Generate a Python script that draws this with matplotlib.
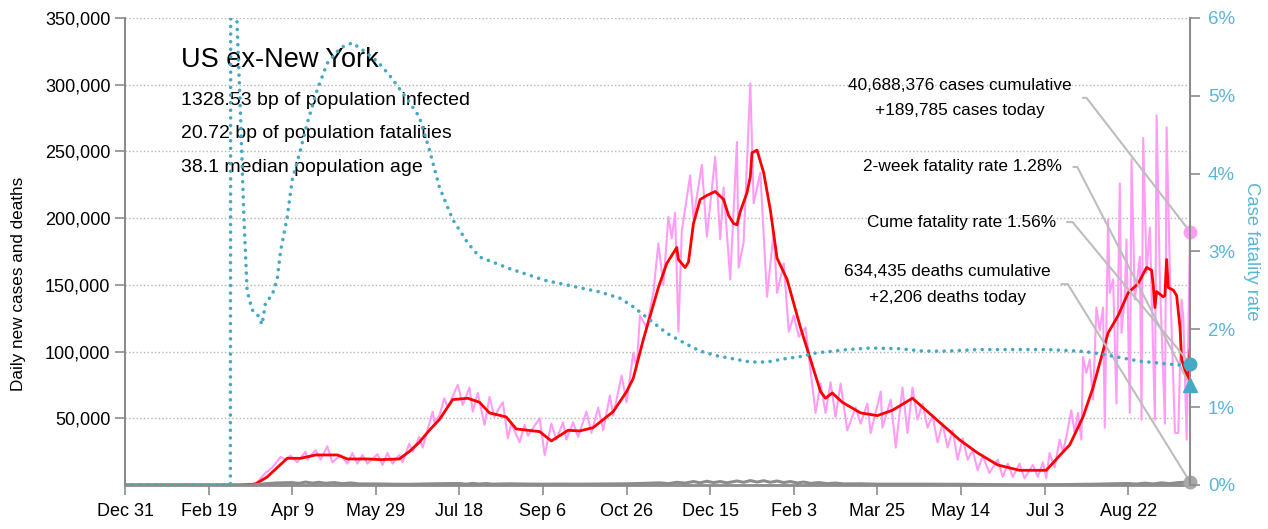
import numpy as np
import matplotlib
matplotlib.use("Agg")
from matplotlib import pyplot as plt
from matplotlib.ticker import FuncFormatter

plt.rcParams['font.family'] = ['Liberation Sans', 'DejaVu Sans']

# days since Dec 31 2019 (thousands)
case_days = [0, 75, 79, 84, 88, 93, 96, 99, 103, 108, 109, 114, 117, 121, 124, 129, 133, 136, 139,
             142, 145, 151, 154, 157, 160, 164, 166, 170, 172, 176, 178, 184, 185, 188, 191, 193,
             199, 202, 206, 208, 211, 215, 218, 221, 223, 226, 229, 231, 236, 239, 241, 248, 251,
             255, 258, 262, 264, 268, 271, 276, 279, 283, 286, 290, 292, 297, 300, 304, 306, 308,
             312, 316, 319, 322, 325, 327, 329, 331, 333, 338, 340, 345, 348, 353, 356, 358, 362,
             366, 367, 370, 374, 376, 380, 384, 388, 390, 394, 397, 400, 403, 407, 410, 413, 416,
             419, 422, 425, 428, 432, 437, 440, 444, 446, 452, 453, 458, 461, 465, 468, 471, 474,
             477, 480, 483, 486, 489, 492, 495, 498, 501, 504, 507, 510, 513, 517, 522, 525, 528,
             531, 535, 538, 543, 546, 549, 551, 553, 556, 559, 561, 563, 566, 568, 570, 572, 573,
             575, 577, 579, 581, 583, 585, 586, 588, 589, 591, 593, 595, 596, 598, 599, 601, 602,
             604, 607, 608, 609, 611, 613, 616, 617, 619, 622, 623, 625, 628, 630, 632, 633, 635, 637]
daily_cases = [0, 0, 2, 9, 13, 21, 19, 22, 17, 25, 19, 26, 19, 29, 17, 22.5, 16, 24, 16,
               22.5, 16, 23, 15, 24, 16, 22.5, 17, 31, 25, 36, 28, 55, 47, 52, 65, 58,
               75, 60, 73, 55, 69, 45, 66, 51, 56, 62, 35, 46, 32, 45, 37, 50, 22.5,
               46, 34, 47, 34, 47, 36, 55, 39, 58, 41, 67, 52, 82, 62, 99, 88, 127,
               118, 144, 181, 150, 201, 185, 204, 115, 190, 232, 200, 240, 186, 246, 184, 223, 154,
               257, 163, 182, 301, 211, 234, 141, 190, 144, 166, 115, 127, 111, 118, 86, 54, 76,
               54, 77, 51, 76, 41, 58, 46, 61, 39, 70, 43, 64, 28, 73, 39, 73, 49,
               61, 43, 52, 32, 46, 28, 41, 19, 35, 19, 26, 11, 22, 9, 19, 6, 16,
               6, 16, 5, 15, 6, 17, 5, 24, 13, 34, 25, 36, 56, 39, 54, 34, 96,
               84, 94, 64, 133, 116, 133, 43, 199, 144, 154, 61, 226, 114, 141, 184, 54, 244,
               139, 171, 49, 260, 159, 193, 49, 277, 151, 46, 268, 156, 39, 39, 139, 126, 34, 189.785]

avg_days = [0, 69, 78, 85, 91, 97, 105, 114, 127, 133, 145, 153, 164, 170, 176, 182, 188, 196,
            205, 212, 218, 228, 234, 248, 255, 265, 272, 280, 292, 300, 304, 310, 319, 324, 330,
            331, 335, 337, 340, 344, 348, 353, 358, 361, 364, 366, 368, 372, 374, 375, 378, 382,
            386, 390, 396, 404, 410, 416, 419, 423, 429, 440, 450, 459, 471, 480, 489, 499, 510,
            522, 535, 551, 559, 565, 573, 579, 584, 588, 594, 600, 606, 611, 614, 615, 616, 617,
            621, 622, 623, 624, 627, 629, 631, 632, 634, 636, 637]
avg_cases = [0, 0, 0.7, 6, 13, 20, 20, 22.5, 22.5, 19.5, 19.5, 19, 19.5, 25, 32, 41, 49, 64,
             65, 62, 54, 51, 42, 40, 33, 41, 40.5, 43, 55, 70, 80, 109, 148, 166, 178,
             169, 163, 167, 196, 214, 217, 220, 214, 202, 196, 195, 205, 219, 231, 249, 251, 234,
             206, 170, 154, 118, 94, 70, 65, 69, 62, 54, 52, 56, 65, 55, 45, 34, 24,
             15, 11, 11, 22, 30, 51, 73, 96, 114, 127, 144, 151, 163, 161, 150, 133, 145,
             141, 142, 169, 148, 146, 142, 118, 94, 86, 79, 101]

death_days = [0, 75, 80, 90, 100, 104, 108, 112, 116, 120, 125, 130, 135, 140, 150, 160, 170, 180,
              190, 200, 204, 208, 212, 216, 220, 230, 240, 250, 260, 270, 280, 290, 300, 310, 320,
              325, 330, 335, 340, 344, 348, 352, 356, 360, 366, 370, 374, 378, 382, 386, 390, 394,
              398, 402, 406, 410, 415, 420, 425, 430, 440, 450, 460, 470, 480, 500, 520, 540, 560,
              580, 590, 600, 605, 610, 615, 620, 625, 630, 637]
daily_deaths = [0, 0, 0.5, 1.5, 1.8, 1.2, 2.2, 1.4, 2.0, 1.3, 1.8, 1.0, 1.5, 0.8, 0.8, 0.6, 0.5, 0.8,
                1.0, 1.1, 0.6, 1.2, 0.7, 1.1, 0.6, 0.9, 0.7, 0.6, 0.7, 0.6, 0.7, 0.8, 0.9, 1.2, 1.6,
                1.0, 2.0, 1.4, 2.6, 1.6, 2.8, 1.8, 2.6, 1.6, 3.0, 2.0, 3.3, 2.2, 3.2, 2.0, 3.0, 1.8,
                2.6, 1.5, 2.2, 1.2, 1.8, 1.0, 1.4, 0.8, 0.9, 0.6, 0.6, 0.6, 0.6, 0.5, 0.3, 0.2, 0.3,
                0.6, 0.9, 1.1, 0.7, 1.4, 0.8, 1.6, 1.0, 1.8, 2.206]

cfr_days = [0, 63, 64, 65, 66, 69, 71, 73, 76, 79, 82, 84, 88, 91, 93, 97, 100, 105, 109, 115,
            121, 129, 136, 142, 151, 158, 169, 176, 182, 188, 196, 205, 212, 230, 251, 284, 296,
            304, 314, 324, 334, 344, 354, 364, 374, 384, 394, 404, 414, 424, 432, 446, 464, 477,
            491, 511, 531, 551, 571, 579, 587, 597, 607, 617, 630, 637]
cfr_pct = [0, 0, 30, 30, 6.5, 4.8, 3.5, 2.5, 2.25, 2.2, 2.06, 2.34, 2.44, 2.64, 3.0, 3.44, 3.92,
           4.31, 4.65, 5.08, 5.42, 5.62, 5.68, 5.59, 5.44, 5.27, 4.95, 4.73, 4.31, 3.83, 3.41,
           3.11, 2.93, 2.78, 2.63, 2.48, 2.40, 2.29, 2.12, 1.95, 1.83, 1.72, 1.66, 1.62, 1.58,
           1.58, 1.62, 1.65, 1.70, 1.72, 1.74, 1.76, 1.75, 1.72, 1.72, 1.74, 1.74, 1.74, 1.72,
           1.70, 1.67, 1.63, 1.59, 1.57, 1.54, 1.56]

tick_days = [0, 50, 100, 150, 200, 250, 300, 350, 400, 450, 500, 550, 600]
tick_labels = ['Dec 31', 'Feb 19', 'Apr 9', 'May 29', 'Jul 18', 'Sep 6', 'Oct 26',
               'Dec 15', 'Feb 3', 'Mar 25', 'May 14', 'Jul 3', 'Aug 22']

last_day = 637
cases_today = 189785
deaths_today = 2206
cume_cfr = 1.56
two_week_cfr = 1.28

pink = '#ff9cf5'
teal = '#45a9c6'
teal_txt = '#5bb5d5'
axis_gray = '#8c8c8c'

fig = plt.figure(figsize=(12.68, 5.29), dpi=100)
ax = fig.add_axes([0.0986, 0.0832, 0.8399, 0.8828])

ax.plot(case_days, np.array(daily_cases) * 1000, color=pink, lw=1.5, zorder=2)
ax.plot(avg_days, np.array(avg_cases) * 1000, color='#ff0000', lw=2, zorder=3)
ax.plot(death_days, np.array(daily_deaths) * 1000, color=axis_gray, lw=2.2, zorder=3)

ax.set_xlim(0, last_day)
ax.set_ylim(0, 350000)
ax.set_yticks(np.arange(50000, 350001, 50000))
ax.yaxis.set_major_formatter(FuncFormatter(lambda v, p: '{:,.0f}'.format(v)))
ax.set_xticks(tick_days)
ax.set_xticklabels(tick_labels)
ax.grid(axis='y', color='#b5b5b5', linestyle=':', lw=1)
ax.set_axisbelow(True)
ax.tick_params(axis='both', labelsize=13, color=axis_gray, length=7, width=1.2)
ax.tick_params(axis='x', pad=6)
for s in ['top', 'right']:
    ax.spines[s].set_visible(False)
ax.spines['left'].set_color(axis_gray)
ax.spines['left'].set_linewidth(1.5)
ax.spines['bottom'].set_color(axis_gray)
ax.spines['bottom'].set_linewidth(2)
ax.set_ylabel('Daily new cases and deaths', fontsize=12.3)
ax.yaxis.set_label_coords(-0.093, 0.43)

ax2 = ax.twinx()
ax2.plot(cfr_days, cfr_pct, color=teal, lw=2.6, linestyle=(0, (0.01, 2.1)),
         dash_capstyle='round', zorder=4)
ax2.set_ylim(0, 6)
ax2.set_yticks(range(0, 7))
ax2.yaxis.set_major_formatter(FuncFormatter(lambda v, p: '{:.0f}%'.format(v)))
ax2.tick_params(axis='y', labelsize=13.5, colors=teal_txt, length=7, width=1.2, pad=6)
ax2.tick_params(axis='y', color=axis_gray)
for s in ['top', 'left', 'bottom']:
    ax2.spines[s].set_visible(False)
ax2.spines['right'].set_color(axis_gray)
ax2.spines['right'].set_linewidth(1.5)
ax2.set_ylabel('Case fatality rate', fontsize=13.3, color=teal_txt, rotation=270, labelpad=18)

# end markers
ax.plot([last_day], [cases_today], 'o', color=pink, ms=9, clip_on=False, zorder=6)
ax.plot([last_day], [deaths_today], 'o', color='#a8a8a8', ms=9, clip_on=False, zorder=6)
ax2.plot([last_day], [cume_cfr], 'o', color=teal, ms=9, clip_on=False, zorder=6)
ax2.plot([last_day], [two_week_cfr], '^', color=teal, ms=10.5, clip_on=False, zorder=6)

# title block
ax.text(0.0526, 0.910, 'US ex-New York', transform=ax.transAxes, fontsize=19.5, va='center')
ax.text(0.0526, 0.824, '1328.53 bp of population infected', transform=ax.transAxes,
        fontsize=14, va='center')
ax.text(0.0526, 0.752, '20.72 bp of population fatalities', transform=ax.transAxes,
        fontsize=14, va='center')
ax.text(0.0526, 0.679, '38.1 median population age', transform=ax.transAxes,
        fontsize=14, va='center')

# callouts
line_kw = dict(arrowstyle='-', color='#bdbdbd', lw=1.5, shrinkA=6, shrinkB=0)
ax.annotate('40,688,376 cases cumulative\n+189,785 cases today', xy=(last_day, cases_today),
            xytext=(0.889, 0.829), textcoords='axes fraction', ha='right', va='center',
            multialignment='center', fontsize=12.4, linespacing=1.8,
            arrowprops=dict(connectionstyle='angle,angleA=0,angleB=127.7,rad=0', **line_kw),
            annotation_clip=False)
ax2.annotate('2-week fatality rate 1.28%', xy=(last_day, two_week_cfr),
             xytext=(0.880, 0.681), textcoords='axes fraction', ha='right', va='center',
             fontsize=12.4,
             arrowprops=dict(connectionstyle='angle,angleA=0,angleB=117.3,rad=0', **line_kw),
             annotation_clip=False)
ax2.annotate('Cume fatality rate 1.56%', xy=(last_day, cume_cfr),
             xytext=(0.874, 0.563), textcoords='axes fraction', ha='right', va='center',
             fontsize=12.4,
             arrowprops=dict(connectionstyle='angle,angleA=0,angleB=129.7,rad=0', **line_kw),
             annotation_clip=False)
ax.annotate('634,435 deaths cumulative\n+2,206 deaths today', xy=(last_day, deaths_today),
            xytext=(0.869, 0.430), textcoords='axes fraction', ha='right', va='center',
            multialignment='center', fontsize=12.4, linespacing=1.9,
            arrowprops=dict(connectionstyle='angle,angleA=0,angleB=121.7,rad=0', **line_kw),
            annotation_clip=False)

fig.savefig('out.png', dpi=100)
